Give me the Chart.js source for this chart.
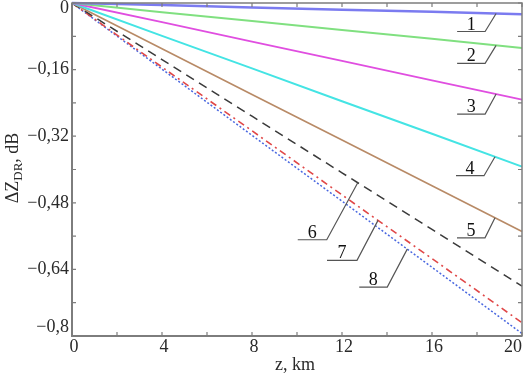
<!DOCTYPE html>
<html>
<head>
<meta charset="utf-8">
<script src="https://cdn.jsdelivr.net/npm/chart.js@4/dist/chart.umd.min.js"></script>
<style>
  html, body { margin: 0; padding: 0; background: #fff; }
</style>
</head>
<body>
<canvas id="chart" width="525" height="373"></canvas>
<script>
// distance along the path, km
const zKm = [0, 4, 8, 12, 16, 20];

// ΔZDR, dB for curves 1..8
const curve1 = [0, -0.005, -0.011, -0.016, -0.021, -0.027];
const curve2 = [0, -0.022, -0.043, -0.065, -0.086, -0.108];
const curve3 = [0, -0.046, -0.093, -0.139, -0.186, -0.232];
const curve4 = [0, -0.079, -0.157, -0.236, -0.314, -0.393];
const curve5 = [0, -0.110, -0.220, -0.329, -0.439, -0.549];
const curve6 = [0, -0.136, -0.272, -0.408, -0.544, -0.680];
const curve7 = [0, -0.154, -0.307, -0.461, -0.614, -0.768];
const curve8 = [0, -0.159, -0.318, -0.476, -0.635, -0.794];

const curveNames = ['1', '2', '3', '4', '5', '6', '7', '8'];
// z where each numbered leader touches its curve
const labelZ = [18.85, 18.85, 18.85, 18.8, 18.8, 12.7, 13.6, 14.9];

const xMajorTicks = [0, 4, 8, 12, 16, 20];
const xTickLabels = ['0', '4', '8', '12', '16', '20'];
const xMinorTicks = [2, 6, 10, 14, 18];
const yMajorTicks = [0, -0.16, -0.32, -0.48, -0.64, -0.8];
const yTickLabels = ['0', '\u22120,16', '\u22120,32', '\u22120,48', '\u22120,64', '\u22120,8'];
const yMinorTicks = [-0.08, -0.24, -0.40, -0.56, -0.72];

const SERIF = '"Liberation Serif", "DejaVu Serif", serif';

const styles = [
    { color: '#7b7bf0', width: 2.5, dash: [] },
    { color: '#80e080', width: 2, dash: [] },
    { color: '#e04ee0', width: 1.8, dash: [] },
    { color: '#44e4e4', width: 2, dash: [] },
    { color: '#b88a66', width: 1.6, dash: [] },
    { color: '#3a3a3a', width: 1.5, dash: [9, 6] },
    { color: '#e04848', width: 1.6, dash: [7, 4, 2, 4] },
    { color: '#4a68e0', width: 1.5, dash: [2, 2] }
];

// leader geometry: elbow offset from touch point and underline length (px)
const leaders = [
    { dx: -11, dy: 18, len: 28 },
    { dx: -11, dy: 18, len: 28 },
    { dx: -11, dy: 20, len: 28 },
    { dx: -11, dy: 19, len: 28 },
    { dx: -10, dy: 20, len: 28 },
    { dx: -31, dy: 57, len: 29 },
    { dx: -21, dy: 40, len: 30 },
    { dx: -20, dy: 38, len: 28 }
];

const allCurves = [curve1, curve2, curve3, curve4, curve5, curve6, curve7, curve8];

const datasets = allCurves.map((vals, i) => ({
    label: curveNames[i],
    data: zKm.map((z, k) => ({ x: z, y: vals[k] })),
    borderColor: styles[i].color,
    borderWidth: styles[i].width,
    borderDash: styles[i].dash,
    pointRadius: 0,
    tension: 0,
    fill: false,
    clip: 4
}));

const framePlugin = {
    id: 'frame',
    afterDatasetsDraw(chart) {
        const { ctx, chartArea: a, scales: { x, y } } = chart;
        ctx.save();

        // box
        ctx.strokeStyle = '#7d7d7d';
        ctx.lineWidth = 1.5;
        ctx.strokeRect(a.left, a.top, a.right - a.left, a.bottom - a.top);
        ctx.lineWidth = 2;
        ctx.beginPath();
        ctx.moveTo(a.left, a.top);
        ctx.lineTo(a.left, a.bottom);
        ctx.lineTo(a.right, a.bottom);
        ctx.stroke();

        // inward ticks on every side
        const tk = 4;
        ctx.lineWidth = 1.2;
        ctx.beginPath();
        xMajorTicks.concat(xMinorTicks).forEach(v => {
            const px = x.getPixelForValue(v);
            ctx.moveTo(px, a.bottom); ctx.lineTo(px, a.bottom - tk);
            ctx.moveTo(px, a.top); ctx.lineTo(px, a.top + tk);
        });
        yMajorTicks.concat(yMinorTicks).forEach(v => {
            const py = y.getPixelForValue(v);
            ctx.moveTo(a.left, py); ctx.lineTo(a.left + tk, py);
            ctx.moveTo(a.right, py); ctx.lineTo(a.right - tk, py);
        });
        ctx.stroke();

        // tick labels
        ctx.fillStyle = '#2a2a2a';
        ctx.font = '18px ' + SERIF;
        ctx.textBaseline = 'top';
        xMajorTicks.forEach((v, i) => {
            const px = x.getPixelForValue(v);
            const last = i === xMajorTicks.length - 1;
            ctx.textAlign = last ? 'right' : 'center';
            ctx.fillText(xTickLabels[i], last ? px : px + 2, a.bottom + 2);
        });
        ctx.textAlign = 'right';
        ctx.textBaseline = 'middle';
        yMajorTicks.forEach((v, i) => {
            let py = y.getPixelForValue(v);
            if (i === 0) py += 5;
            if (i === yMajorTicks.length - 1) py -= 9;
            ctx.fillText(yTickLabels[i], a.left - 3, py);
        });

        // axis titles
        ctx.textAlign = 'center';
        ctx.textBaseline = 'alphabetic';
        ctx.fillText('z, km', 295, 370);

        ctx.translate(18, 168);
        ctx.rotate(-Math.PI / 2);
        const big = '18px ' + SERIF, small = '13px ' + SERIF;
        ctx.font = big;
        const w1 = ctx.measureText('\u0394Z').width;
        const w3 = ctx.measureText(', dB').width;
        ctx.font = small;
        const w2 = ctx.measureText('DR').width;
        let cx = -(w1 + w2 + w3) / 2;
        ctx.textAlign = 'left';
        ctx.font = big;
        ctx.fillText('\u0394Z', cx, 0); cx += w1;
        ctx.font = small;
        ctx.fillText('DR', cx, 4); cx += w2;
        ctx.font = big;
        ctx.fillText(', dB', cx, 0);
        ctx.restore();

        // numbered leaders
        ctx.save();
        ctx.strokeStyle = '#555';
        ctx.lineWidth = 1.2;
        ctx.fillStyle = '#111';
        ctx.font = '18px ' + SERIF;
        ctx.textAlign = 'center';
        ctx.textBaseline = 'alphabetic';
        chart.data.datasets.forEach((ds, i) => {
            const pts = chart.getDatasetMeta(i).data;
            const ax = x.getPixelForValue(labelZ[i]);
            let ay = pts[pts.length - 1].y;
            for (let k = 1; k < pts.length; k++) {
                if (pts[k].x >= ax) {
                    const t = (ax - pts[k - 1].x) / (pts[k].x - pts[k - 1].x);
                    ay = pts[k - 1].y + t * (pts[k].y - pts[k - 1].y);
                    break;
                }
            }
            const L = leaders[i];
            const ex = ax + L.dx, ey = ay + L.dy;
            ctx.beginPath();
            ctx.moveTo(ax, ay);
            ctx.lineTo(ex, ey);
            ctx.lineTo(ex - L.len, ey);
            ctx.stroke();
            ctx.fillText(curveNames[i], ex - L.len / 2, ey - 2);
        });
        ctx.restore();
    }
};

const ctx = document.getElementById('chart').getContext('2d');
new Chart(ctx, {
    type: 'line',
    data: { datasets },
    options: {
        responsive: false,
        animation: false,
        devicePixelRatio: 1,
        layout: { padding: { top: 3, right: 3, left: 0, bottom: 0 } },
        plugins: {
            legend: { display: false },
            tooltip: { enabled: false }
        },
        scales: {
            x: {
                type: 'linear',
                min: 0,
                max: 20,
                grid: { display: false },
                border: { display: false },
                ticks: { display: false },
                afterFit: (s) => { s.height = 37; }
            },
            y: {
                type: 'linear',
                min: -0.8,
                max: 0,
                grid: { display: false },
                border: { display: false },
                ticks: { display: false },
                afterFit: (s) => { s.width = 72; }
            }
        }
    },
    plugins: [framePlugin]
});
</script>
</body>
</html>
